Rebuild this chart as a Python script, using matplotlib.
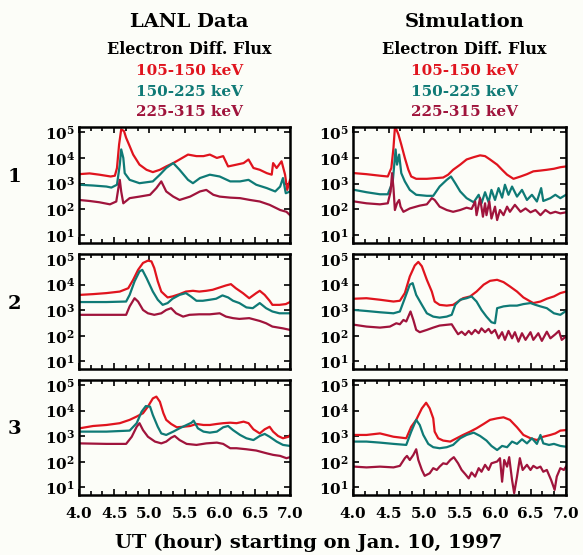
import numpy as np
import matplotlib
matplotlib.use("Agg")
import matplotlib.pyplot as plt
from matplotlib.ticker import FixedLocator, MultipleLocator, NullLocator, FuncFormatter

plt.rcParams['font.family'] = 'DejaVu Serif'
plt.rcParams['font.weight'] = 'bold'
plt.rcParams['mathtext.fontset'] = 'dejavuserif'
plt.rcParams['mathtext.default'] = 'bf'

# ---- labels ----
columns = ["LANL Data", "Simulation"]
subtitle = "Electron Diff. Flux"
bands = ["105-150 keV", "150-225 keV", "225-315 keV"]
band_colors = ["#e0141e", "#0f7a76", "#a0143c"]
rows = ["1", "2", "3"]
x_ticks = [4.0, 4.5, 5.0, 5.5, 6.0, 6.5, 7.0]
y_ticks = [1e1, 1e2, 1e3, 1e4, 1e5]
xlabel = "UT (hour) starting on Jan. 10, 1997"

# ---- flux, log10 (cm^-2 s^-1 sr^-1 keV^-1) vs UT hour ----
# LANL, satellite 1
lanl1_a_t = [4.00, 4.15, 4.29, 4.45, 4.51, 4.54, 4.57, 4.60, 4.64, 4.67, 4.72, 4.77, 4.86, 4.96, 5.05, 5.15, 5.24, 5.34, 5.43, 5.55, 5.67, 5.77, 5.86, 5.96, 6.05, 6.12, 6.24, 6.34, 6.41, 6.48, 6.57, 6.67, 6.74, 6.76, 6.81, 6.88, 6.93, 6.96, 7.00]
lanl1_a_f = [3.37, 3.40, 3.35, 3.28, 3.31, 3.61, 4.52, 5.11, 5.04, 4.78, 4.46, 4.13, 3.74, 3.54, 3.45, 3.54, 3.67, 3.80, 3.94, 4.13, 4.07, 4.07, 4.13, 4.00, 4.07, 3.67, 3.74, 3.80, 3.94, 3.61, 3.54, 3.41, 3.35, 3.80, 3.61, 3.87, 3.35, 2.76, 3.15]
lanl1_b_t = [4.00, 4.20, 4.39, 4.46, 4.54, 4.58, 4.60, 4.63, 4.65, 4.72, 4.86, 5.05, 5.15, 5.24, 5.34, 5.43, 5.55, 5.62, 5.72, 5.86, 6.00, 6.15, 6.29, 6.41, 6.52, 6.67, 6.79, 6.86, 6.90, 6.94, 7.00]
lanl1_b_f = [2.96, 2.93, 2.89, 2.85, 2.96, 3.74, 4.33, 4.00, 3.41, 3.15, 3.02, 3.09, 3.35, 3.61, 3.80, 3.54, 3.15, 3.02, 3.22, 3.35, 3.28, 3.09, 3.09, 3.15, 2.96, 2.83, 2.70, 2.89, 3.22, 2.63, 2.70]
lanl1_c_t = [4.00, 4.15, 4.29, 4.44, 4.53, 4.56, 4.58, 4.60, 4.63, 4.72, 4.86, 5.01, 5.10, 5.17, 5.24, 5.34, 5.43, 5.58, 5.72, 5.81, 5.91, 6.00, 6.15, 6.29, 6.43, 6.57, 6.71, 6.86, 6.95, 7.00]
lanl1_c_f = [2.37, 2.33, 2.28, 2.20, 2.31, 2.83, 3.15, 2.70, 2.24, 2.44, 2.50, 2.57, 2.83, 3.09, 2.70, 2.50, 2.37, 2.50, 2.70, 2.76, 2.57, 2.50, 2.46, 2.44, 2.37, 2.31, 2.18, 1.98, 1.91, 1.78]

# Simulation, satellite 1
sim1_a_t = [4.02, 4.19, 4.38, 4.49, 4.54, 4.57, 4.59, 4.61, 4.64, 4.68, 4.73, 4.78, 4.82, 4.89, 5.04, 5.18, 5.27, 5.34, 5.41, 5.51, 5.60, 5.70, 5.79, 5.86, 5.93, 6.03, 6.10, 6.17, 6.26, 6.36, 6.45, 6.54, 6.64, 6.73, 6.83, 6.92, 7.00]
sim1_a_f = [3.41, 3.37, 3.31, 3.28, 3.61, 4.39, 5.17, 5.11, 4.91, 4.52, 4.00, 3.54, 3.28, 3.19, 3.19, 3.22, 3.24, 3.35, 3.54, 3.74, 3.94, 4.03, 4.10, 4.07, 3.94, 3.74, 3.54, 3.35, 3.19, 3.28, 3.37, 3.48, 3.51, 3.54, 3.58, 3.64, 3.67]
sim1_b_t = [4.02, 4.19, 4.38, 4.49, 4.56, 4.60, 4.62, 4.65, 4.68, 4.73, 4.80, 4.89, 5.04, 5.13, 5.22, 5.32, 5.38, 5.44, 5.51, 5.60, 5.70, 5.77, 5.81, 5.86, 5.91, 5.95, 6.00, 6.05, 6.10, 6.14, 6.19, 6.24, 6.31, 6.38, 6.45, 6.52, 6.59, 6.65, 6.68, 6.78, 6.85, 6.92, 7.00]
sim1_b_f = [2.76, 2.67, 2.59, 2.59, 3.09, 4.33, 3.74, 4.13, 3.41, 3.09, 2.76, 2.57, 2.53, 2.53, 2.89, 3.15, 3.28, 3.02, 2.70, 2.44, 2.28, 2.57, 2.24, 2.67, 2.28, 2.76, 2.37, 2.83, 2.46, 2.96, 2.57, 2.89, 2.50, 2.76, 2.37, 2.57, 2.31, 2.83, 2.33, 2.44, 2.57, 2.44, 2.57]
sim1_c_t = [4.02, 4.19, 4.38, 4.49, 4.53, 4.55, 4.57, 4.59, 4.62, 4.65, 4.67, 4.71, 4.80, 4.94, 5.04, 5.11, 5.15, 5.22, 5.32, 5.41, 5.51, 5.60, 5.67, 5.72, 5.74, 5.79, 5.83, 5.86, 5.88, 5.92, 5.95, 6.00, 6.03, 6.07, 6.12, 6.17, 6.21, 6.28, 6.36, 6.43, 6.50, 6.57, 6.64, 6.71, 6.78, 6.85, 6.92, 7.00]
sim1_c_f = [2.31, 2.24, 2.20, 2.24, 2.70, 3.41, 2.83, 1.98, 2.24, 2.37, 2.11, 1.91, 2.04, 2.15, 2.20, 2.44, 2.37, 2.11, 1.98, 1.91, 1.98, 2.07, 2.02, 2.31, 1.78, 2.44, 1.72, 2.24, 1.78, 2.31, 1.65, 2.11, 1.59, 1.98, 1.78, 2.11, 1.91, 2.18, 1.91, 2.04, 1.89, 1.98, 1.78, 1.98, 1.85, 1.91, 1.85, 1.89]

# LANL, satellite 2
lanl2_a_t = [4.01, 4.20, 4.39, 4.58, 4.70, 4.77, 4.84, 4.91, 4.98, 5.03, 5.07, 5.12, 5.17, 5.22, 5.26, 5.33, 5.43, 5.52, 5.62, 5.71, 5.81, 5.90, 6.00, 6.09, 6.16, 6.23, 6.33, 6.42, 6.52, 6.57, 6.64, 6.71, 6.75, 6.85, 6.94, 7.00]
lanl2_a_f = [3.60, 3.63, 3.67, 3.73, 3.86, 4.19, 4.58, 4.85, 4.94, 4.91, 4.65, 4.13, 3.73, 3.60, 3.50, 3.54, 3.63, 3.73, 3.76, 3.73, 3.76, 3.80, 3.89, 3.97, 4.02, 3.86, 3.67, 3.47, 3.67, 3.76, 3.60, 3.37, 3.21, 3.21, 3.24, 3.32]
lanl2_b_t = [4.01, 4.39, 4.67, 4.72, 4.79, 4.86, 4.90, 4.96, 5.05, 5.12, 5.19, 5.26, 5.33, 5.43, 5.52, 5.59, 5.67, 5.76, 5.86, 5.95, 6.04, 6.12, 6.19, 6.28, 6.38, 6.47, 6.57, 6.66, 6.75, 6.85, 7.00]
lanl2_b_f = [3.32, 3.32, 3.34, 3.60, 4.13, 4.52, 4.58, 4.26, 3.73, 3.41, 3.21, 3.28, 3.45, 3.60, 3.67, 3.54, 3.37, 3.37, 3.41, 3.45, 3.58, 3.50, 3.37, 3.28, 3.11, 3.08, 3.28, 3.08, 2.95, 2.88, 2.88]
lanl2_c_t = [4.01, 4.39, 4.67, 4.72, 4.79, 4.84, 4.91, 4.98, 5.07, 5.17, 5.24, 5.31, 5.38, 5.48, 5.57, 5.71, 5.86, 6.00, 6.09, 6.19, 6.28, 6.42, 6.57, 6.66, 6.75, 6.90, 7.00]
lanl2_c_f = [2.82, 2.82, 2.82, 3.15, 3.47, 3.34, 3.01, 2.88, 2.82, 2.88, 3.01, 3.08, 2.88, 2.75, 2.82, 2.84, 2.84, 2.88, 2.75, 2.69, 2.66, 2.69, 2.58, 2.49, 2.36, 2.29, 2.23]

# Simulation, satellite 2
sim2_a_t = [4.02, 4.19, 4.38, 4.57, 4.66, 4.73, 4.80, 4.87, 4.92, 4.97, 5.04, 5.11, 5.15, 5.22, 5.32, 5.41, 5.48, 5.55, 5.65, 5.74, 5.84, 5.93, 6.03, 6.12, 6.21, 6.31, 6.40, 6.50, 6.54, 6.64, 6.73, 6.83, 6.92, 7.00]
sim2_a_f = [3.45, 3.47, 3.41, 3.34, 3.37, 3.67, 4.32, 4.75, 4.89, 4.72, 4.19, 3.73, 3.34, 3.21, 3.18, 3.21, 3.34, 3.47, 3.54, 3.73, 4.00, 4.15, 4.19, 4.10, 3.93, 3.73, 3.50, 3.34, 3.28, 3.34, 3.45, 3.54, 3.67, 3.73]
sim2_b_t = [4.02, 4.19, 4.38, 4.57, 4.66, 4.73, 4.80, 4.84, 4.89, 4.97, 5.04, 5.13, 5.22, 5.32, 5.39, 5.44, 5.51, 5.60, 5.67, 5.74, 5.81, 5.88, 5.95, 6.00, 6.03, 6.12, 6.21, 6.31, 6.40, 6.50, 6.57, 6.64, 6.73, 6.83, 6.92, 7.00]
sim2_b_f = [3.01, 2.97, 2.92, 2.88, 2.95, 3.47, 4.00, 4.06, 3.60, 3.21, 2.88, 2.75, 2.71, 2.75, 2.82, 3.21, 3.41, 3.47, 3.54, 3.34, 3.01, 2.75, 2.53, 2.49, 3.08, 3.15, 3.18, 3.18, 3.24, 3.28, 3.21, 3.15, 3.08, 2.88, 2.82, 2.97]
sim2_c_t = [4.02, 4.19, 4.38, 4.52, 4.61, 4.66, 4.71, 4.75, 4.81, 4.85, 4.89, 4.94, 5.04, 5.13, 5.22, 5.32, 5.39, 5.44, 5.48, 5.53, 5.58, 5.63, 5.67, 5.72, 5.77, 5.81, 5.86, 5.91, 5.95, 6.00, 6.05, 6.10, 6.14, 6.19, 6.24, 6.28, 6.33, 6.38, 6.43, 6.50, 6.54, 6.61, 6.66, 6.73, 6.78, 6.85, 6.90, 6.94, 7.00]
sim2_c_f = [2.43, 2.36, 2.32, 2.36, 2.49, 2.45, 2.62, 2.56, 2.95, 2.62, 2.23, 2.14, 2.23, 2.32, 2.40, 2.43, 2.45, 2.23, 2.06, 2.16, 2.03, 2.19, 2.06, 2.23, 2.10, 2.29, 2.14, 2.27, 2.10, 2.23, 1.90, 2.14, 1.84, 2.19, 1.90, 2.14, 1.77, 2.10, 1.84, 2.14, 1.84, 2.10, 1.80, 2.16, 1.90, 2.06, 2.19, 1.84, 1.97]

# LANL, satellite 3
lanl3_a_t = [4.01, 4.20, 4.39, 4.58, 4.72, 4.82, 4.91, 4.98, 5.05, 5.10, 5.15, 5.20, 5.24, 5.31, 5.39, 5.48, 5.58, 5.67, 5.77, 5.86, 5.96, 6.05, 6.15, 6.24, 6.34, 6.41, 6.48, 6.57, 6.64, 6.71, 6.76, 6.83, 6.90, 6.98, 7.00]
lanl3_a_f = [3.31, 3.40, 3.44, 3.51, 3.64, 3.77, 3.90, 4.16, 4.48, 4.55, 4.35, 3.90, 3.64, 3.48, 3.35, 3.37, 3.40, 3.48, 3.44, 3.44, 3.48, 3.51, 3.53, 3.51, 3.57, 3.51, 3.27, 3.11, 3.27, 3.37, 3.18, 3.01, 2.92, 2.98, 3.05]
lanl3_b_t = [4.01, 4.39, 4.72, 4.82, 4.89, 4.95, 5.01, 5.05, 5.12, 5.17, 5.24, 5.34, 5.43, 5.53, 5.60, 5.63, 5.69, 5.77, 5.86, 5.96, 6.05, 6.12, 6.19, 6.29, 6.38, 6.48, 6.57, 6.64, 6.71, 6.81, 6.90, 7.00]
lanl3_b_f = [3.18, 3.18, 3.22, 3.51, 3.96, 4.18, 4.16, 3.83, 3.37, 3.11, 3.05, 3.18, 3.31, 3.44, 3.53, 3.61, 3.31, 3.18, 3.14, 3.18, 3.35, 3.40, 3.24, 3.05, 2.92, 2.85, 3.01, 3.09, 2.98, 2.79, 2.66, 2.62]
lanl3_c_t = [4.01, 4.39, 4.67, 4.75, 4.82, 4.86, 4.91, 4.98, 5.08, 5.17, 5.24, 5.31, 5.36, 5.43, 5.53, 5.67, 5.81, 5.96, 6.05, 6.15, 6.24, 6.38, 6.52, 6.67, 6.76, 6.86, 6.95, 7.00]
lanl3_c_f = [2.72, 2.70, 2.70, 2.98, 3.37, 3.51, 3.24, 2.98, 2.79, 2.72, 2.79, 2.94, 3.01, 2.85, 2.70, 2.66, 2.72, 2.75, 2.70, 2.53, 2.53, 2.49, 2.44, 2.33, 2.27, 2.23, 2.14, 2.18]

# Simulation, satellite 3
sim3_a_t = [4.02, 4.19, 4.38, 4.57, 4.75, 4.82, 4.89, 4.97, 5.03, 5.08, 5.13, 5.15, 5.20, 5.27, 5.37, 5.46, 5.55, 5.65, 5.74, 5.84, 5.93, 6.03, 6.12, 6.21, 6.31, 6.40, 6.50, 6.59, 6.68, 6.78, 6.85, 6.92, 7.00]
sim3_a_f = [3.05, 3.05, 3.11, 2.98, 2.92, 3.37, 3.64, 4.09, 4.31, 4.09, 3.70, 3.18, 2.92, 2.83, 2.79, 2.92, 3.05, 3.18, 3.31, 3.48, 3.64, 3.70, 3.74, 3.64, 3.35, 3.05, 2.92, 2.85, 2.98, 3.05, 3.11, 3.22, 3.24]
sim3_b_t = [4.02, 4.19, 4.38, 4.57, 4.75, 4.82, 4.89, 4.94, 4.99, 5.06, 5.13, 5.22, 5.32, 5.41, 5.51, 5.60, 5.70, 5.79, 5.88, 5.95, 6.03, 6.10, 6.17, 6.24, 6.31, 6.38, 6.45, 6.52, 6.59, 6.64, 6.68, 6.76, 6.83, 6.92, 7.00]
sim3_b_f = [2.79, 2.79, 2.75, 2.70, 2.66, 3.18, 3.64, 3.44, 3.05, 2.70, 2.57, 2.53, 2.57, 2.66, 2.92, 3.05, 3.14, 3.01, 2.83, 2.62, 2.46, 2.62, 2.57, 2.79, 2.70, 2.88, 2.72, 2.92, 2.70, 3.05, 2.72, 2.66, 2.70, 2.62, 2.59]
sim3_c_t = [4.02, 4.19, 4.38, 4.57, 4.66, 4.73, 4.76, 4.80, 4.85, 4.89, 4.92, 4.97, 5.01, 5.08, 5.13, 5.18, 5.22, 5.27, 5.32, 5.37, 5.42, 5.48, 5.53, 5.58, 5.63, 5.67, 5.72, 5.77, 5.81, 5.86, 5.91, 5.95, 6.03, 6.07, 6.10, 6.13, 6.17, 6.20, 6.24, 6.27, 6.31, 6.35, 6.39, 6.45, 6.50, 6.54, 6.59, 6.64, 6.68, 6.73, 6.79, 6.84, 6.87, 6.92, 6.97, 7.00]
sim3_c_f = [1.81, 1.78, 1.81, 1.78, 1.84, 2.14, 2.23, 2.07, 2.27, 2.49, 2.07, 1.68, 1.45, 1.55, 1.75, 1.68, 1.81, 1.94, 1.91, 2.07, 2.18, 1.94, 1.68, 1.52, 1.35, 1.58, 1.42, 1.75, 1.61, 1.88, 1.68, 1.94, 2.01, 2.14, 1.22, 2.07, 1.81, 2.18, 1.29, 0.77, 1.42, 2.14, 1.68, 1.88, 1.68, 1.84, 1.75, 1.81, 1.61, 1.68, 1.29, 0.90, 1.42, 1.75, 1.68, 1.81]

panels = [
    [[(lanl1_a_t, lanl1_a_f), (lanl1_b_t, lanl1_b_f), (lanl1_c_t, lanl1_c_f)],
     [(sim1_a_t, sim1_a_f), (sim1_b_t, sim1_b_f), (sim1_c_t, sim1_c_f)]],
    [[(lanl2_a_t, lanl2_a_f), (lanl2_b_t, lanl2_b_f), (lanl2_c_t, lanl2_c_f)],
     [(sim2_a_t, sim2_a_f), (sim2_b_t, sim2_b_f), (sim2_c_t, sim2_c_f)]],
    [[(lanl3_a_t, lanl3_a_f), (lanl3_b_t, lanl3_b_f), (lanl3_c_t, lanl3_c_f)],
     [(sim3_a_t, sim3_a_f), (sim3_b_t, sim3_b_f), (sim3_c_t, sim3_c_f)]],
]

bg = "#fcfdf8"
W, H = 583, 555
fig = plt.figure(figsize=(W / 100, H / 100), dpi=100, facecolor=bg)

col_x = [(79, 290), (353, 566)]
row_y = [(127, 243), (254, 369), (380, 495)]


def frac_box(x0, x1, y0, y1):
    return [x0 / W, 1 - y1 / H, (x1 - x0) / W, (y1 - y0) / H]


def pow10_label(v, pos):
    return r"$10^{%d}$" % int(round(np.log10(v)))


for r, (y0, y1) in enumerate(row_y):
    for c, (x0, x1) in enumerate(col_x):
        ax = fig.add_axes(frac_box(x0, x1, y0, y1))
        ax.set_facecolor(bg)
        for (t, f), color in zip(panels[r][c], band_colors):
            ax.plot(t, 10 ** np.asarray(f), color=color, lw=1.6, solid_joinstyle="round")
        ax.set_yscale("log")
        ax.set_xlim(4.0, 7.0)
        ax.set_ylim(10 ** 0.7, 10 ** 5.2)
        ax.xaxis.set_major_locator(FixedLocator(x_ticks))
        ax.xaxis.set_minor_locator(MultipleLocator(1 / 6))
        ax.yaxis.set_major_locator(FixedLocator(y_ticks))
        ax.yaxis.set_minor_locator(NullLocator())
        ax.yaxis.set_major_formatter(FuncFormatter(pow10_label))
        ax.tick_params(which="both", direction="in", top=True, right=True,
                       width=1.2, colors="black")
        ax.tick_params(which="major", length=4.5)
        ax.tick_params(which="minor", length=3)
        ax.tick_params(axis="y", labelsize=11, pad=3)
        if r == len(row_y) - 1:
            ax.set_xticklabels(["%.1f" % v for v in x_ticks])
            ax.tick_params(axis="x", labelsize=11, pad=9)
        else:
            ax.set_xticklabels([])
        for s in ax.spines.values():
            s.set_linewidth(1.8)

# column headers and band key
for c, (x0, x1) in enumerate(col_x):
    xc = (x0 + x1) / 2 / W + 0.008
    fig.text(xc, 1 - 22 / H, columns[c], ha="center", va="center", fontsize=14, fontweight="bold")
    fig.text(xc, 1 - 49 / H, subtitle, ha="center", va="center", fontsize=11.5, fontweight="bold")
    for k, (lab, color) in enumerate(zip(bands, band_colors)):
        fig.text(xc, 1 - (71 + 20.5 * k) / H, lab, ha="center", va="center",
                 fontsize=11, color=color, fontweight="bold")

# row numbers
for r, yc in enumerate([177, 304, 429]):
    fig.text(14 / W, 1 - yc / H, rows[r], ha="center", va="center", fontsize=14, fontweight="bold")

fig.text(309 / W, 1 - 543 / H, xlabel, ha="center", va="center", fontsize=14, fontweight="bold")

fig.savefig("out.png", dpi=100, facecolor=bg)
